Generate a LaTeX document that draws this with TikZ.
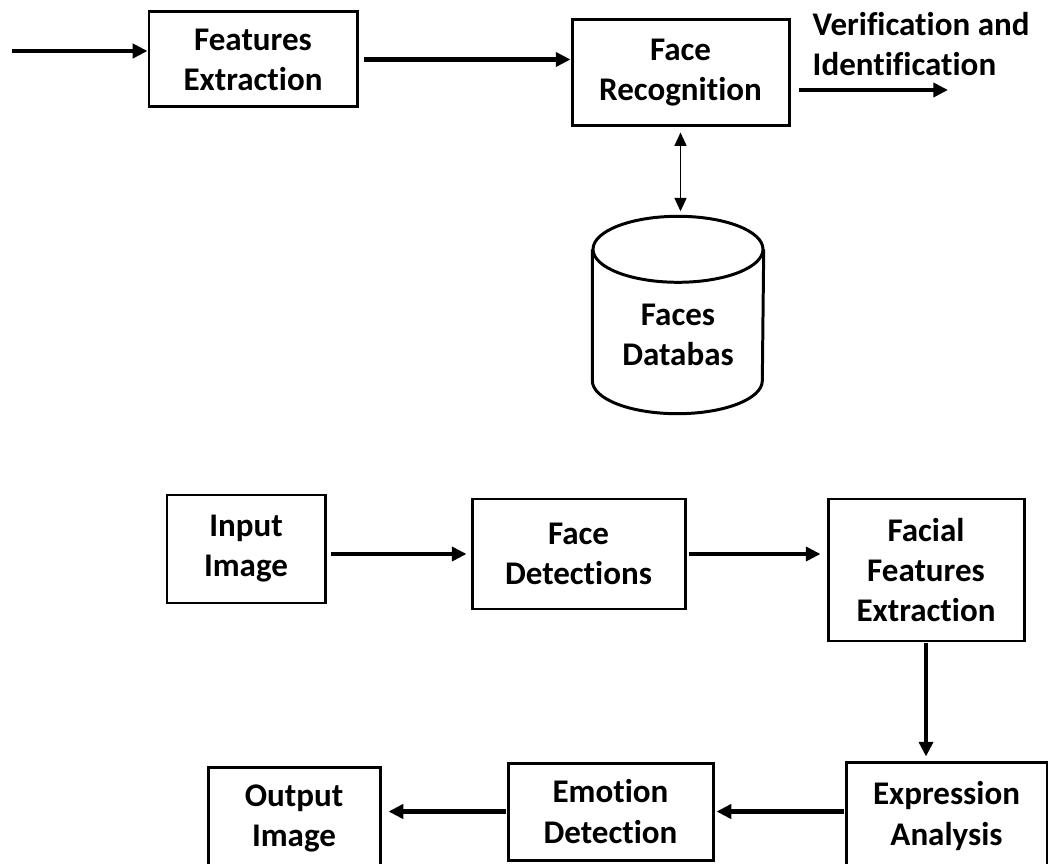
\documentclass[tikz,border=0pt]{standalone}
\usepackage{fontspec}
\setmainfont{Carlito}[Ligatures={NoCommon, NoContextual}]
\usetikzlibrary{arrows.meta, positioning, shapes.geometric, calc}

\begin{document}
\begin{tikzpicture}[
    x=0.1mm, y=-0.1mm,
    every node/.style={font=\bfseries\fontsize{9.4}{11.4}\selectfont},
    blk/.style={rectangle, draw, line width=0.85pt, align=center, inner sep=2pt},
    dbline/.style={line width=0.85pt},
    arr/.style={-{Triangle[length=4.2pt, width=4pt]}, line width=1.15pt},
    darr/.style={{Triangle[length=3.8pt, width=3.4pt]}-{Triangle[length=3.8pt, width=3.4pt]},
                 line width=0.45pt},
  ]
    \clip (0,0) rectangle (1048,863);

    % recognition chain
    \coordinate (src) at (12,51);
    \node[blk, minimum width=20.8mm, minimum height=9.5mm] (fe) at (253,59.5)
      {Features\\Extraction};
    \node[blk, minimum width=21.7mm, minimum height=10.6mm] (fr) at (680.5,73)
      {Face\\Recognition};
    \coordinate (vi) at (948,90);
    \node[anchor=west, align=left, inner sep=0pt] (vilbl) at (812,44)
      {Verification and\\Identification};

    % database drum
    \node[minimum width=17mm, minimum height=19.6mm, inner sep=0pt] (db) at (678,315) {};
    \draw[dbline] ($(db.north)+(0,33)$) ellipse [x radius=85, y radius=33];
    \draw[dbline] ($(db.north west)+(0,33)$) -- ($(db.south west)+(0,-33)$)
      arc [start angle=180, end angle=0, x radius=85, y radius=33]
      -- ($(db.north east)+(0,33)$);
    \node[align=center] (dblbl) at (678,335) {Faces\\Databas};

    \draw[arr] (src) -- (fe.west |- src);
    \draw[arr, shorten <=0.5mm] (fe.east) -- (fe.east -| fr.west);
    \draw[arr, shorten <=0.8mm] (fr.east |- vi) -- (vi);
    \draw[darr, shorten <=0.5mm, shorten >=0.5mm] (fr.south) -- (fr.south |- db.north);

    % emotion pipeline
    \node[blk, minimum width=15.8mm, minimum height=10.8mm] (in) at (246,549)
      {Input\\Image};
    \node[blk, minimum width=21.3mm, minimum height=11mm] (fd) at (578.5,554)
      {Face\\Detections};
    \node[blk, minimum width=19.6mm, minimum height=14.2mm] (ff) at (926,570)
      {Facial\\Features\\Extraction};
    \node[blk, minimum width=20.1mm, minimum height=10.8mm] (ex) at (946.5,816)
      {Expression\\Analysis};
    \node[blk, minimum width=20.5mm, minimum height=9.7mm] (em) at (610.5,811.5)
      {Emotion\\Detection};
    \node[blk, minimum width=17.2mm, minimum height=10.3mm] (op) at (294,818.5)
      {Output\\Image};

    \draw[arr, shorten <=0.4mm, shorten >=0.4mm] (in.east |- fd) -- (fd.west);
    \draw[arr, shorten <=0.2mm, shorten >=0.6mm] (fd.east) -- (fd.east -| ff.west);
    \draw[arr, shorten <=0.1mm, shorten >=0.4mm] (ff.south) -- (ff.south |- ex.north);
    \draw[arr, shorten <=0.1mm, shorten >=0.2mm] (ex.west |- em) -- (em.east);
    \draw[arr, shorten <=0.1mm, shorten >=0.7mm] (em.west) -- (em.west -| op.east);
\end{tikzpicture}
\end{document}
